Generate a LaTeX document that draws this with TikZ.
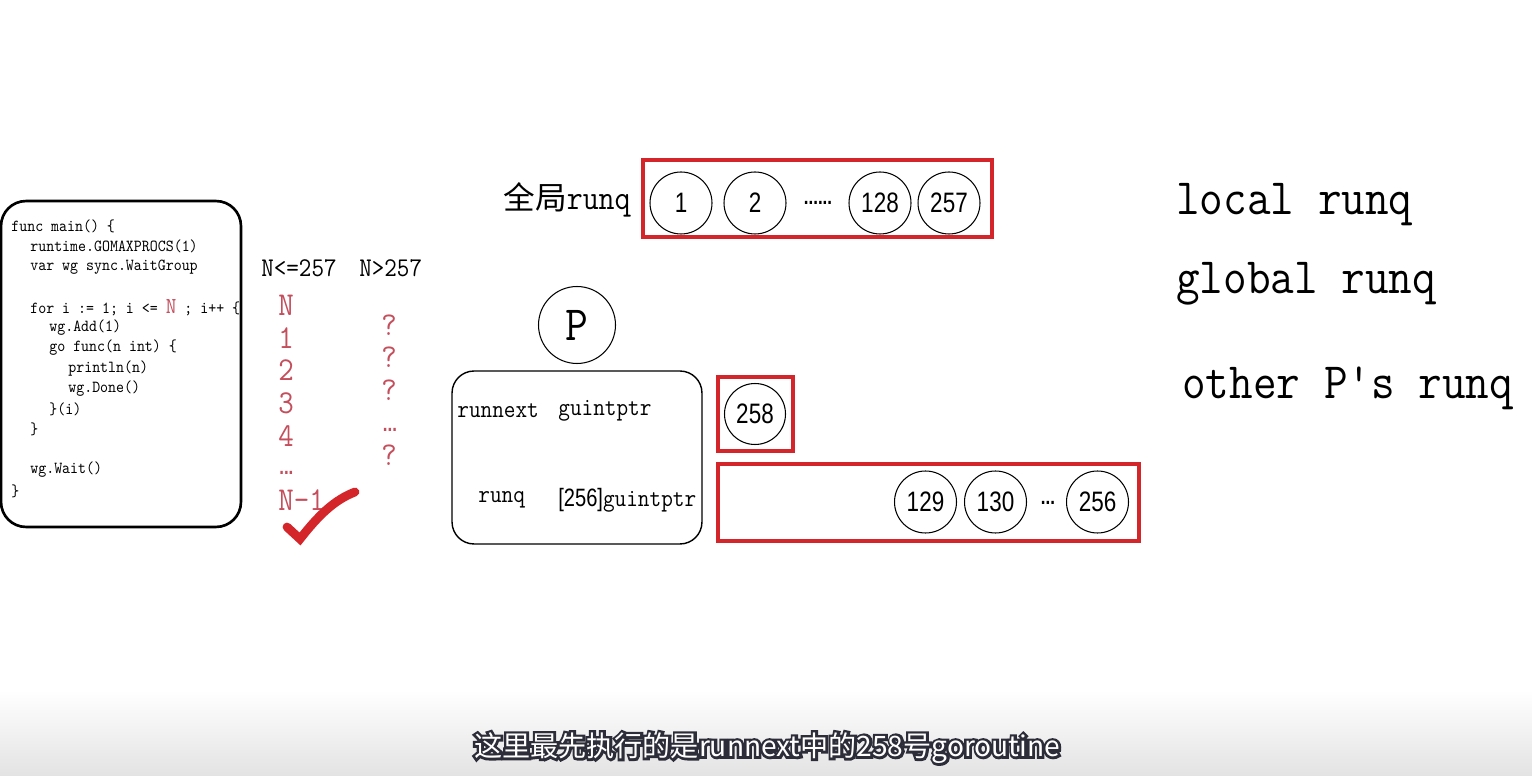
\documentclass[tikz,border=0pt]{standalone}
\usepackage{fontspec}
\setmainfont{Liberation Sans}
\newfontfamily\codefont[FakeStretch=0.9]{Latin Modern Mono}
\newfontfamily\numfont[FakeStretch=0.8]{Liberation Sans}
\newfontfamily\cjk{Noto Sans CJK SC}
\newfontfamily\cjkedge[FakeBold=18]{Noto Sans CJK SC}
\definecolor{qred}{RGB}{212,38,42}
\definecolor{tred}{RGB}{196,78,92}
\definecolor{subdark}{RGB}{45,45,58}

\begin{document}
\begin{tikzpicture}[x=0.02cm, y=-0.02cm,
  codeline/.style={anchor=west, inner sep=0pt, font=\codefont\fontsize{9.6}{11}\selectfont},
  redline/.style={anchor=west, inner sep=0pt, text=tred, font=\codefont\fontsize{19}{20}\selectfont},
  gnode/.style={draw, circle, line width=0.6pt, minimum size=1.24cm, inner sep=0pt, font=\numfont\fontsize{16}{18}\selectfont},
  redbox/.style={draw=qred, line width=1.8pt, inner sep=0pt},
  bigtext/.style={anchor=west, inner sep=0pt, font=\codefont\fontsize{29}{34}\selectfont},
  subtext/.style={inner sep=0pt, font=\cjk\fontsize{16}{18}\selectfont}]
\useasboundingbox (0,0) rectangle (1532,776);
\fill[white] (0,0) rectangle (1532,776);
\shade[top color=white, bottom color=black!11] (0,690) rectangle (1532,776);

% code of main
\node[draw, line width=1.5pt, rounded corners=0.5cm, minimum width=4.8cm, minimum height=6.52cm] (code) at (121,364) {};
\node[codeline] (c1) at (11,226) {func main() \{};
\node[codeline] (c2) at (30,246) {runtime.GOMAXPROCS(1)};
\node[codeline] (c3) at (30,267) {var wg sync.WaitGroup};
\node[codeline] (c4) at (30,308) {for i := 1; i <= {\color{tred}\fontsize{13}{13}\selectfont N} ; i++ \{};
\node[codeline] (c5) at (49,328) {wg.Add(1)};
\node[codeline] (c6) at (49,348) {go func(n int) \{};
\node[codeline] (c7) at (68,369) {println(n)};
\node[codeline] (c8) at (68,389) {wg.Done()};
\node[codeline] (c9) at (49,409) {\}(i)};
\node[codeline] (c10) at (30,429) {\}};
\node[codeline] (c11) at (30,470) {wg.Wait()};
\node[codeline] (c12) at (11,491) {\}};

% output orders
\node[anchor=west, inner sep=0pt, font=\codefont\fontsize{15.4}{17}\selectfont] (small) at (261,268) {N<=257};
\node[anchor=west, inner sep=0pt, font=\codefont\fontsize{15.4}{17}\selectfont] (large) at (359,268) {N>257};
\node[redline] (o1) at (278,305) {N};
\node[redline] (o2) at (278,338) {1};
\node[redline] (o3) at (278,370) {2};
\node[redline] (o4) at (278,403) {3};
\node[redline, font=\numfont\bfseries\fontsize{12}{12}\selectfont] (o6) at (279,473) {...};
\node[redline] (o5) at (278,436) {4};
\node[redline] (o7) at (278,500) {N-1};
\node[text=tred, inner sep=0pt, font=\codefont\fontsize{19}{20}\selectfont] (q1) at (389,325) {?};
\node[text=tred, inner sep=0pt, font=\codefont\fontsize{19}{20}\selectfont] (q2) at (389,357) {?};
\node[text=tred, inner sep=0pt, font=\codefont\fontsize{19}{20}\selectfont] (q3) at (389,390) {?};
\node[text=tred, inner sep=0pt, font=\numfont\bfseries\fontsize{12}{12}\selectfont] (q4) at (390,430) {...};
\node[text=tred, inner sep=0pt, font=\codefont\fontsize{19}{20}\selectfont] (q5) at (389,455) {?};
\draw[qred, line width=5pt, line cap=round] (287,527) .. controls (293,533) .. (300,539) .. controls (318,516) and (334,500) .. (355,492);

% global runq
\node[anchor=east, inner sep=0pt] (glabel) at (631,200) {{\cjk\fontsize{18}{20}\selectfont 全局}{\codefont\fontsize{19.6}{20}\selectfont runq}};
\node[redbox, minimum width=6.98cm, minimum height=1.54cm] (grq) at (817.5,198.5) {};
\node[gnode] (g1) at (681,203) {1};
\node[gnode] (g2) at (755,203) {2};
\node[inner sep=0pt, font=\numfont\bfseries\fontsize{12}{12}\selectfont] (gdots) at (818,203) {......};
\node[gnode] (g128) at (880,203) {128};
\node[gnode] (g257) at (949,203) {257};

% P and its fields
\node[draw, circle, line width=0.6pt, minimum size=1.54cm, inner sep=0pt, font=\codefont\fontsize{28}{30}\selectfont] (p) at (577,325) {P};
\node[draw, line width=0.8pt, rounded corners=0.44cm, minimum width=5cm, minimum height=3.46cm] (pbox) at (577,457.5) {};
\node[anchor=west, inner sep=0pt, font=\codefont\fontsize{14.3}{16}\selectfont] (rnext) at (457,411) {runnext};
\node[anchor=west, inner sep=0pt, font=\codefont\fontsize{14.3}{16}\selectfont] (rnextt) at (558,411) {guintptr};
\node[anchor=west, inner sep=0pt, font=\codefont\fontsize{14.3}{16}\selectfont] (rq) at (478,500) {runq};
\node[anchor=west, inner sep=0pt, font=\codefont\fontsize{14.3}{16}\selectfont] (rqt) at (558,500) {{\numfont[256]}guintptr};

% runnext and local runq
\node[redbox, minimum width=1.5cm, minimum height=1.48cm] (nbox) at (755.5,414) {};
\node[gnode, minimum size=1.22cm] (g258) at (755,414) {258};
\node[redbox, minimum width=8.42cm, minimum height=1.54cm] (lrq) at (928.5,502.5) {};
\node[gnode] (g129) at (925.5,502) {129};
\node[gnode] (g130) at (995.5,502) {130};
\node[inner sep=0pt, font=\numfont\bfseries\fontsize{12}{12}\selectfont] (ldots) at (1048,503) {...};
\node[gnode] (g256) at (1097.5,502) {256};

% order of lookup
\node[bigtext] (t1) at (1176,205) {local runq};
\node[bigtext] (t2) at (1176,284) {global runq};
\node[bigtext] (t3) at (1182,388) {other P's runq};

% subtitle
\node[subtext, font=\cjkedge\fontsize{16}{18}\selectfont, text=subdark] (subedge) at (767,748) {这里最先执行的是runnext中的258号goroutine};
\node[subtext, text=white] (sub) at (subedge.center) {这里最先执行的是runnext中的258号goroutine};
\end{tikzpicture}
\end{document}
